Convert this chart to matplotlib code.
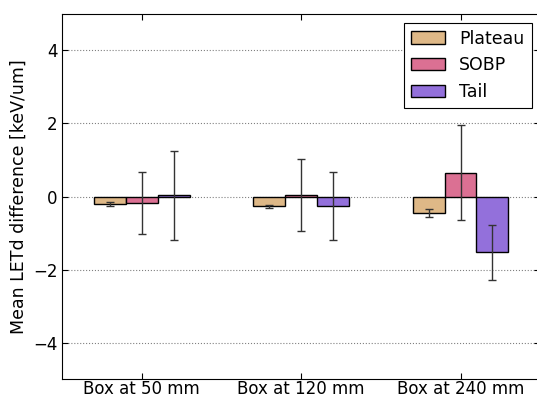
import matplotlib
matplotlib.use("Agg")
import matplotlib.pyplot as plt
import numpy as np

categories = ["Box at 50 mm", "Box at 120 mm", "Box at 240 mm"]
series = ["Plateau", "SOBP", "Tail"]
plateau = [-0.20, -0.27, -0.45]
plateau_err = [0.05, 0.05, 0.10]
sobp = [-0.17, 0.05, 0.65]
sobp_err = [0.85, 0.99, 1.30]
tail = [0.03, -0.25, -1.53]
tail_err = [1.23, 0.93, 0.75]
colors = ["#deb887", "#db7093", "#9370db"]

fig, ax = plt.subplots(figsize=(5.37, 3.99), dpi=100)
fig.subplots_adjust(left=0.1155, right=1.006, top=0.965, bottom=0.05)
x = np.arange(len(categories))
w = 0.2
for i, (vals, errs) in enumerate([(plateau, plateau_err), (sobp, sobp_err), (tail, tail_err)]):
    ax.bar(x + (i - 1) * w, vals, w, yerr=errs, color=colors[i], edgecolor="black",
           linewidth=1, label=series[i],
           error_kw=dict(ecolor="#333333", elinewidth=1, capsize=3, capthick=1))
ax.set_xlim(-0.5, 2.5)
ax.set_ylim(-5, 5)
ax.set_yticks([-4, -2, 0, 2, 4])
ax.set_xticks(x)
ax.set_xticklabels(categories, fontsize=12)
ax.tick_params(axis="y", labelsize=12, pad=3)
ax.tick_params(direction="in", length=4, top=True, right=True)
ax.tick_params(axis="x", pad=1)
ax.yaxis.grid(True, linestyle=":", color="gray", linewidth=0.8)
ax.set_axisbelow(True)
ax.set_ylabel("Mean LETd difference [keV/um]", fontsize=12.5, labelpad=4)
leg = ax.legend(loc="upper right", fontsize=12.5,
                fancybox=False, framealpha=1, edgecolor="black")
leg.get_frame().set_linewidth(0.8)
fig.savefig("out.png", dpi=100)
